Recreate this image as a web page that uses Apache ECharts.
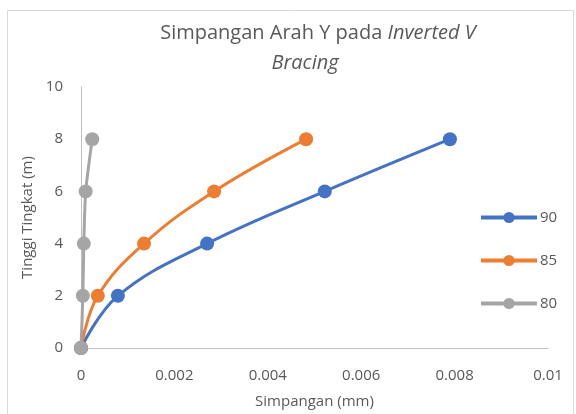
<!DOCTYPE html>
<html>
<head>
<meta charset="utf-8">
<script src="https://cdn.jsdelivr.net/npm/echarts@6/dist/echarts.min.js"></script>
<style>
  html, body { margin: 0; padding: 0; background: #fff; }
  #chart { width: 576px; height: 414px; }
</style>
</head>
<body>
<div id="chart"></div>
<script>
  // tinggi tingkat (m)
  const tinggi = [0, 2, 4, 6, 8]
  // simpangan (mm) per seri
  const s90 = [0, 0.00079, 0.0027, 0.00522, 0.0079]
  const s85 = [0, 0.00036, 0.00135, 0.00285, 0.00482]
  const s80 = [0, 0.00004, 0.00006, 0.0001, 0.00024]
  const seriesNames = ['90', '85', '80']
  const colors = ['#4472c4', '#ed7d31', '#a5a5a5']

  const pairs = (xs) => xs.map((x, i) => [x, tinggi[i]])
  const font = '"Open Sans", "Noto Sans", sans-serif'
  const titleRich = {
    i: { fontFamily: font, fontSize: 20, fontStyle: 'italic', fill: '#595959' }
  }

  let elem = echarts.init(document.getElementById('chart'))
  let option = {
    animation: false,
    color: colors,
    textStyle: { fontFamily: font },
    graphic: [{
      type: 'rect',
      left: 5, top: 8,
      shape: { width: 566, height: 420 },
      style: { fill: 'none', stroke: '#d9d9d9', lineWidth: 1 },
      silent: true
    }, {
      type: 'text',
      x: 318, y: 33,
      style: {
        text: 'Simpangan Arah Y pada {i|Inverted V}',
        fontFamily: font, fontSize: 20, fill: '#595959',
        align: 'center', verticalAlign: 'middle',
        rich: titleRich
      },
      silent: true
    }, {
      type: 'text',
      x: 305, y: 63,
      style: {
        text: '{i|Bracing}',
        fontFamily: font, fontSize: 20, fill: '#595959',
        align: 'center', verticalAlign: 'middle',
        rich: titleRich
      },
      silent: true
    }],
    legend: {
      orient: 'vertical',
      left: 474,
      top: 205,
      itemWidth: 56,
      itemHeight: 14,
      itemGap: 28,
      lineStyle: { width: 4 },
      textStyle: { fontFamily: font, fontSize: 15, color: '#595959', padding: [0, 0, 0, -2] },
      data: seriesNames
    },
    grid: {
      left: 81,
      right: 28,
      top: 87,
      bottom: 65,
      containLabel: false
    },
    xAxis: {
      type: 'value',
      min: 0,
      max: 0.01,
      interval: 0.002,
      name: 'Simpangan (mm)',
      nameLocation: 'middle',
      nameGap: 46,
      nameTextStyle: { fontFamily: font, fontSize: 15, color: '#595959' },
      axisLine: { show: true, lineStyle: { color: '#bfbfbf', width: 1 } },
      axisTick: { show: false },
      splitLine: { show: false },
      axisLabel: {
        fontFamily: font, fontSize: 15, color: '#595959', margin: 20,
        formatter: (v) => String(Math.round(v * 1000) / 1000)
      }
    },
    yAxis: {
      type: 'value',
      min: 0,
      max: 10,
      interval: 2,
      name: 'Tinggi Tingkat (m)',
      nameLocation: 'middle',
      nameGap: 46,
      nameTextStyle: { fontFamily: font, fontSize: 15, color: '#595959' },
      axisLine: { show: true, lineStyle: { color: '#bfbfbf', width: 1 } },
      axisTick: { show: false },
      splitLine: { show: false },
      axisLabel: { fontFamily: font, fontSize: 15, color: '#595959', margin: 18 }
    },
    series: [
      {
        name: seriesNames[0],
        type: 'line',
        smooth: 0.4,
        symbol: 'circle',
        symbolSize: 14,
        lineStyle: { width: 3 },
        z: 3,
        data: pairs(s90)
      },
      {
        name: seriesNames[1],
        type: 'line',
        smooth: 0.4,
        symbol: 'circle',
        symbolSize: 14,
        lineStyle: { width: 3 },
        z: 4,
        data: pairs(s85)
      },
      {
        name: seriesNames[2],
        type: 'line',
        smooth: 0.2,
        symbol: 'circle',
        symbolSize: 14,
        lineStyle: { width: 3 },
        z: 5,
        data: pairs(s80)
      }
    ]
  }
  elem.setOption(option)
</script>
</body>
</html>
